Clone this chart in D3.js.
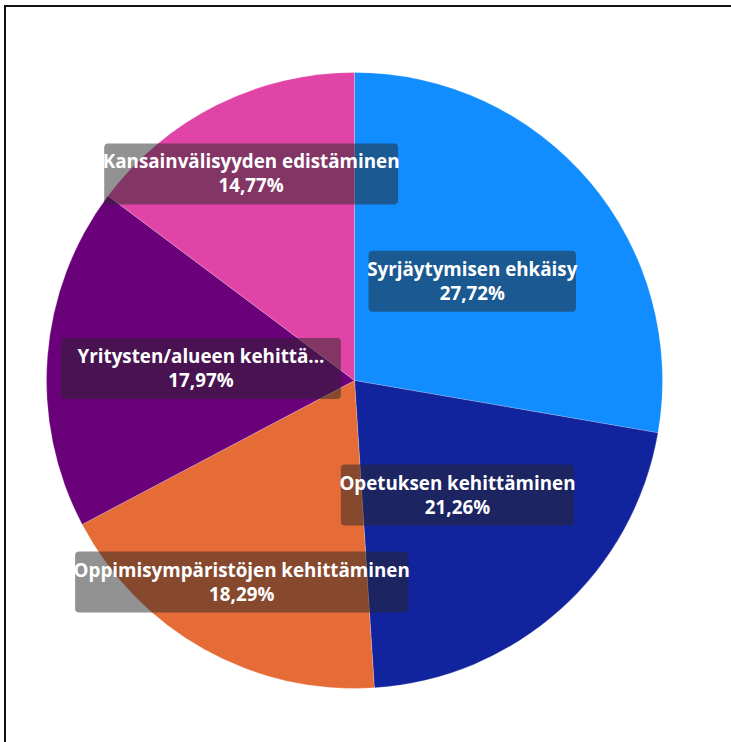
<!DOCTYPE html>
<html>
<head>
<meta charset="utf-8">
<script src="https://cdn.jsdelivr.net/npm/d3@7"></script>
<style>
  html, body { margin: 0; padding: 0; background: #fff; }
  svg { display: block; }
</style>
</head>
<body>
<svg id="chart" width="731" height="742"></svg>
<script>
const categories = [
  "Syrjäytymisen ehkäisy",
  "Opetuksen kehittäminen",
  "Oppimisympäristöjen kehittäminen",
  "Yritysten/alueen kehittä...",
  "Kansainvälisyyden edistäminen"
];
const values = [27.72, 21.26, 18.29, 17.97, 14.77];
const valueLabels = ["27,72%", "21,26%", "18,29%", "17,97%", "14,77%"];
const colors = ["#118DFF", "#12239E", "#E66C37", "#6B007B", "#E044A7"];
// label distance from centre, as a fraction of the radius
const labelRadiusFactor = [0.5, 0.5, 0.75, 0.5, 0.75];

const svg = d3.select("#chart");
const W = 731, H = 742;
const cx = 354.5, cy = 380.5, R = 308;

// frame
svg.append("rect")
  .attr("x", 5).attr("y", 6)
  .attr("width", W + 20).attr("height", H + 20)
  .attr("fill", "none").attr("stroke", "#111").attr("stroke-width", 2);

const data = categories.map((c, i) => ({ name: c, value: values[i], label: valueLabels[i], color: colors[i], lr: labelRadiusFactor[i] }));

const pie = d3.pie().sort(null).value(d => d.value);
const arcs = pie(data);
const arc = d3.arc().innerRadius(0).outerRadius(R);

const g = svg.append("g").attr("transform", `translate(${cx},${cy})`);

g.selectAll("path.slice")
  .data(arcs)
  .join("path")
  .attr("class", "slice")
  .attr("d", arc)
  .attr("fill", d => d.data.color)
  .attr("stroke", "rgba(255,255,255,0.35)")
  .attr("stroke-width", 0.6);

const fontFamily = "'Open Sans', 'Noto Sans', sans-serif";
const fontSize = 18.8;

const labels = g.selectAll("g.lbl")
  .data(arcs)
  .join("g")
  .attr("class", "lbl")
  .attr("transform", d => {
    const r = R * d.data.lr;
    return `translate(${d3.arc().innerRadius(r).outerRadius(r).centroid(d)})`;
  });

labels.append("rect")
  .attr("rx", 4).attr("ry", 4)
  .attr("fill", "rgba(37,37,37,0.5)");

const texts = labels.append("text")
  .attr("text-anchor", "middle")
  .attr("fill", "#fff")
  .style("font-family", fontFamily)
  .style("font-weight", "700")
  .style("font-size", fontSize + "px");

texts.append("tspan").attr("x", 0).attr("y", -5.5).text(d => d.data.name);
texts.append("tspan").attr("x", 0).attr("y", 18.5).text(d => d.data.label);

texts.each(function(d) {
  const bb = this.getBBox();
  // truncated labels keep the box at its full, untruncated width
  const w = d.data.name.endsWith("...") ? bb.width + 33 : bb.width - 3;
  d3.select(this.parentNode).select("rect")
    .attr("x", -w / 2).attr("y", -30.5)
    .attr("width", w).attr("height", 61);
});
</script>
</body>
</html>
